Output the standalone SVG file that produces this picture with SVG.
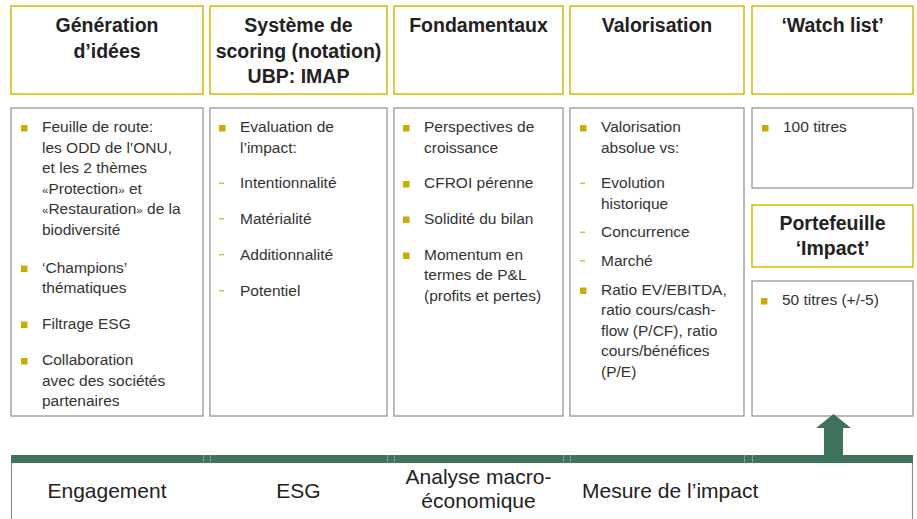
<svg xmlns="http://www.w3.org/2000/svg" width="917" height="519" viewBox="0 0 917 519">
<style>
.hdr{fill:#fff;stroke:#d8b800;stroke-width:1.5}
.box{fill:#fff;stroke:#8c8c8c;stroke-width:1.2}
.ht{font-family:"Liberation Sans",Arial,sans-serif;font-weight:bold;font-size:19.5px;fill:#222;text-anchor:middle}
.bt{font-family:"Liberation Sans",Arial,sans-serif;font-size:15.5px;fill:#333}
.lt{font-family:"Liberation Sans",Arial,sans-serif;font-size:21px;fill:#222}
.mid{text-anchor:middle}
.sq{fill:#cbab00}
.dash{fill:#e0b84a}
.green{fill:#3d735a}
.seam{stroke:#7aa08d;stroke-width:1}
</style>
<defs>
<rect id="b" class="sq" width="6.5" height="6.5"/>
<rect id="d" class="dash" width="5" height="1.5"/>
</defs>

<g id="col1-header">
<rect class="hdr" x="11" y="6" width="192" height="88"/>
<text class="ht" x="107" y="32">Génération</text>
<text class="ht" x="107" y="58">d’idées</text>
</g>
<g id="col2-header">
<rect class="hdr" x="210" y="6" width="177" height="88"/>
<text class="ht" x="298.5" y="32">Système de</text>
<text class="ht" x="298.5" y="58">scoring (notation)</text>
<text class="ht" x="298.5" y="83">UBP: IMAP</text>
</g>
<g id="col3-header">
<rect class="hdr" x="394" y="6" width="169" height="88"/>
<text class="ht" x="478.5" y="32">Fondamentaux</text>
</g>
<g id="col4-header">
<rect class="hdr" x="570" y="6" width="174" height="88"/>
<text class="ht" x="657" y="32">Valorisation</text>
</g>
<g id="col5-header">
<rect class="hdr" x="752" y="6" width="161" height="88"/>
<text class="ht" x="832.5" y="32">‘Watch list’</text>
</g>

<g id="col1-body">
<rect class="box" x="11" y="108" width="192" height="308"/>
<use href="#b" x="21" y="125"/>
<text class="bt" x="42" y="132">Feuille de route:</text>
<text class="bt" x="42" y="152.5">les ODD de l’ONU,</text>
<text class="bt" x="42" y="173">et les 2 thèmes</text>
<text class="bt" x="42" y="193.5"><tspan font-size="11.5">«</tspan>Protection<tspan font-size="11.5">»</tspan> et</text>
<text class="bt" x="42" y="214"><tspan font-size="11.5">«</tspan>Restauration<tspan font-size="11.5">»</tspan> de la</text>
<text class="bt" x="42" y="234.5">biodiversité</text>
<use href="#b" x="21" y="265.5"/>
<text class="bt" x="42" y="272.5">‘Champions’</text>
<text class="bt" x="42" y="293">thématiques</text>
<use href="#b" x="21" y="321.5"/>
<text class="bt" x="42" y="328.5">Filtrage ESG</text>
<use href="#b" x="21" y="358"/>
<text class="bt" x="42" y="365">Collaboration</text>
<text class="bt" x="42" y="385.5">avec des sociétés</text>
<text class="bt" x="42" y="406">partenaires</text>
</g>

<g id="col2-body">
<rect class="box" x="210" y="108" width="177" height="308"/>
<use href="#b" x="219" y="125"/>
<text class="bt" x="240" y="132">Evaluation de</text>
<text class="bt" x="240" y="152.5">l’impact:</text>
<use href="#d" x="219" y="182.5"/>
<text class="bt" x="240" y="188">Intentionnalité</text>
<use href="#d" x="219" y="218"/>
<text class="bt" x="240" y="223.5">Matérialité</text>
<use href="#d" x="219" y="254"/>
<text class="bt" x="240" y="259.5">Additionnalité</text>
<use href="#d" x="219" y="290"/>
<text class="bt" x="240" y="295.5">Potentiel</text>
</g>

<g id="col3-body">
<rect class="box" x="394" y="108" width="169" height="308"/>
<use href="#b" x="403" y="125"/>
<text class="bt" x="424" y="132">Perspectives de</text>
<text class="bt" x="424" y="152.5">croissance</text>
<use href="#b" x="403" y="181"/>
<text class="bt" x="424" y="188">CFROI pérenne</text>
<use href="#b" x="403" y="216.5"/>
<text class="bt" x="424" y="223.5">Solidité du bilan</text>
<use href="#b" x="403" y="252.5"/>
<text class="bt" x="424" y="259.5">Momentum en</text>
<text class="bt" x="424" y="280">termes de P&amp;L</text>
<text class="bt" x="424" y="300.5">(profits et pertes)</text>
</g>

<g id="col4-body">
<rect class="box" x="570" y="108" width="174" height="308"/>
<use href="#b" x="580" y="125"/>
<text class="bt" x="601" y="132">Valorisation</text>
<text class="bt" x="601" y="152.5">absolue vs:</text>
<use href="#d" x="580" y="182.5"/>
<text class="bt" x="601" y="188">Evolution</text>
<text class="bt" x="601" y="208.5">historique</text>
<use href="#d" x="580" y="231.5"/>
<text class="bt" x="601" y="237">Concurrence</text>
<use href="#d" x="580" y="260"/>
<text class="bt" x="601" y="265.5">Marché</text>
<use href="#b" x="580" y="287.5"/>
<text class="bt" x="601" y="294.5">Ratio EV/EBITDA,</text>
<text class="bt" x="601" y="315">ratio cours/cash-</text>
<text class="bt" x="601" y="335.5">flow (P/CF), ratio</text>
<text class="bt" x="601" y="356">cours/bénéfices</text>
<text class="bt" x="601" y="376.5">(P/E)</text>
</g>

<g id="watchlist-body">
<rect class="box" x="752" y="108" width="161" height="80"/>
<use href="#b" x="762" y="125"/>
<text class="bt" x="783" y="132">100 titres</text>
</g>

<g id="portfolio-header">
<rect class="hdr" x="752" y="205" width="161" height="62"/>
<text class="ht" x="832.5" y="230">Portefeuille</text>
<text class="ht" x="832.5" y="254.5">‘Impact’</text>
</g>

<g id="portfolio-body">
<rect class="box" x="752" y="281" width="161" height="135"/>
<use href="#b" x="761" y="298"/>
<text class="bt" x="782" y="305">50 titres (+/-5)</text>
</g>

<g id="foundation">
<line x1="11.5" y1="463" x2="11.5" y2="519" stroke="#8c8c8c" stroke-width="1.2"/>
<line x1="912.5" y1="463" x2="912.5" y2="519" stroke="#8c8c8c" stroke-width="1.2"/>
<rect class="green" x="11" y="455" width="902" height="8"/>
<line class="seam" x1="203.5" y1="455" x2="203.5" y2="463"/>
<line class="seam" x1="210.5" y1="455" x2="210.5" y2="463"/>
<line class="seam" x1="387.5" y1="455" x2="387.5" y2="463"/>
<line class="seam" x1="394.5" y1="455" x2="394.5" y2="463"/>
<line class="seam" x1="563.5" y1="455" x2="563.5" y2="463"/>
<line class="seam" x1="570.5" y1="455" x2="570.5" y2="463"/>
<line class="seam" x1="744.5" y1="455" x2="744.5" y2="463"/>
<line class="seam" x1="752.5" y1="455" x2="752.5" y2="463"/>
<text class="lt mid" x="107" y="498">Engagement</text>
<text class="lt mid" x="298.5" y="498">ESG</text>
<text class="lt mid" x="478.5" y="484">Analyse macro-</text>
<text class="lt mid" x="478.5" y="508">économique</text>
<text class="lt" x="582" y="498">Mesure de l’impact</text>
</g>

<g id="connectors">
<polygon class="green" points="824,455 843,455 843,428 851,428 833.5,414 816,428 824,428"/>
</g>
</svg>
